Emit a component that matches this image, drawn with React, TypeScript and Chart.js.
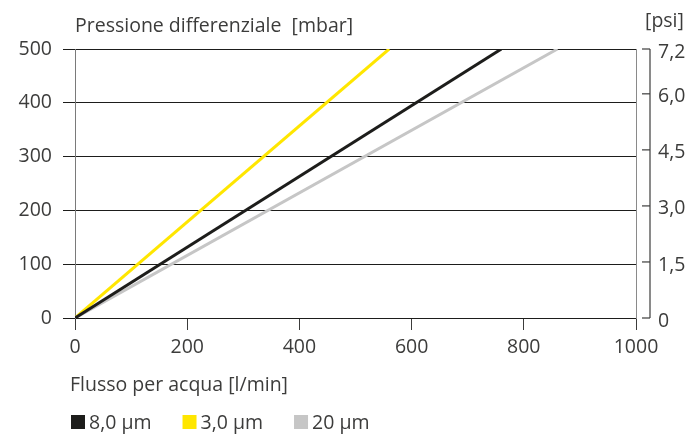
import { useEffect, useRef } from "react";
import { Chart, registerables } from "chart.js";

Chart.register(...registerables);

// ---- data ----
const seriesNames = ["8,0 µm", "3,0 µm", "20 µm"];
const seriesColors = ["#1d1d1b", "#ffe600", "#c6c6c6"];
const flow8 = [0, 760];
const dp8 = [0, 500];
const flow3 = [0, 560];
const dp3 = [0, 500];
const flow20 = [0, 860];
const dp20 = [0, 500];

const flowTicks = [0, 200, 400, 600, 800, 1000];
const flowLabels = ["0", "200", "400", "600", "800", "1000"];
const mbarTicks = [0, 100, 200, 300, 400, 500];
const mbarLabels = ["0", "100", "200", "300", "400", "500"];
const psiTicks = [0, 1.5, 3.0, 4.5, 6.0, 7.2];
const psiLabels = ["0", "1,5", "3,0", "4,5", "6,0", "7,2"];

const yTitle = "Pressione differenziale  [mbar]";
const y2Title = "[psi]";
const xTitle = "Flusso per acqua [l/min]";

const FONT = "'Open Sans'";
const FS = 19.5;
const TEXT = "#3c3c3b";

const toPts = (xs: number[], ys: number[]) => xs.map((x, i) => ({ x, y: ys[i] }));

const decorPlugin = {
  id: "decor",
  afterDraw(chart: any) {
    const ctx = chart.ctx as CanvasRenderingContext2D;
    const area = chart.chartArea;
    const y2 = chart.scales.y2;
    ctx.save();
    // right bracket axis
    const bx = area.right + 14;
    ctx.strokeStyle = "#3c3c3b";
    ctx.lineWidth = 1.2;
    ctx.beginPath();
    ctx.moveTo(bx, y2.getPixelForValue(psiTicks[psiTicks.length - 1]));
    ctx.lineTo(bx, y2.getPixelForValue(0));
    ctx.stroke();
    psiTicks.forEach((v) => {
      const py = y2.getPixelForValue(v);
      ctx.beginPath();
      ctx.moveTo(bx - 8, py);
      ctx.lineTo(bx, py);
      ctx.stroke();
    });
    // titles
    ctx.fillStyle = TEXT;
    ctx.font = `${FS}px ${FONT}`;
    ctx.textBaseline = "alphabetic";
    ctx.textAlign = "left";
    ctx.fillText(yTitle, area.left, 32);
    ctx.fillText(y2Title, area.right + 9, 27);
    ctx.fillText(xTitle, area.left - 5, 391);
    // legend
    let lx = area.left - 4;
    chart.data.datasets.forEach((ds: any) => {
      ctx.fillStyle = ds.borderColor;
      ctx.fillRect(lx, 415, 14, 14);
      ctx.fillStyle = TEXT;
      ctx.fillText(ds.label, lx + 18, 429);
      lx += 18 + ctx.measureText(ds.label).width + 31;
    });
    ctx.restore();
  },
};

export default function App() {
  const ref = useRef<HTMLCanvasElement>(null);
  useEffect(() => {
    if (!ref.current) return;
    const font = { family: FONT, size: FS };
    const chart = new Chart(ref.current, {
      type: "line",
      data: {
        datasets: [
          { label: seriesNames[0], data: toPts(flow8, dp8), borderColor: seriesColors[0], backgroundColor: seriesColors[0] },
          { label: seriesNames[1], data: toPts(flow3, dp3), borderColor: seriesColors[1], backgroundColor: seriesColors[1] },
          { label: seriesNames[2], data: toPts(flow20, dp20), borderColor: seriesColors[2], backgroundColor: seriesColors[2] },
        ].map((d) => ({ ...d, borderWidth: 3, pointRadius: 0, tension: 0, yAxisID: "y" })),
      },
      options: {
        animation: false,
        responsive: false,
        layout: { padding: { top: 49, left: 0, right: 0, bottom: 0 } },
        plugins: { legend: { display: false }, tooltip: { enabled: false }, title: { display: false } },
        scales: {
          x: {
            type: "linear",
            min: 0,
            max: 1000,
            afterBuildTicks: (s: any) => { s.ticks = flowTicks.map((v) => ({ value: v })); },
            afterFit: (s: any) => { s.height = 119; },
            ticks: { font, color: TEXT, padding: 6, maxRotation: 0, autoSkip: false, callback: (_v: any, i: number) => flowLabels[i] },
            grid: { drawOnChartArea: false, drawTicks: true, tickLength: 12, color: "#3c3c3b" },
            border: { display: true, color: "#1d1d1b" },
          },
          y: {
            position: "left",
            min: 0,
            max: 500,
            afterBuildTicks: (s: any) => { s.ticks = mbarTicks.map((v) => ({ value: v })); },
            afterFit: (s: any) => { s.width = 75; },
            ticks: { font, color: TEXT, padding: 11, callback: (_v: any, i: number) => mbarLabels[i] },
            grid: { color: "#1d1d1b", lineWidth: 1, tickLength: 12, drawTicks: true },
            border: { display: true, color: "#7a7a7a" },
          },
          y2: {
            position: "right",
            min: 0,
            max: 7.2,
            afterBuildTicks: (s: any) => { s.ticks = psiTicks.map((v) => ({ value: v })); },
            afterFit: (s: any) => { s.width = 56; },
            ticks: { font, color: TEXT, padding: 22, labelOffset: 3, callback: (_v: any, i: number) => psiLabels[i] },
            grid: { drawOnChartArea: false, drawTicks: false },
            border: { display: true, color: "#8a8a8a" },
          },
        },
      },
      plugins: [decorPlugin],
    } as any);
    return () => chart.destroy();
  }, []);
  return (
    <div style={{ position: "absolute", left: 0, top: 0, width: 692, height: 437, background: "#fff" }}>
      <canvas ref={ref} width={692} height={437} style={{ display: "block" }} />
    </div>
  );
}
